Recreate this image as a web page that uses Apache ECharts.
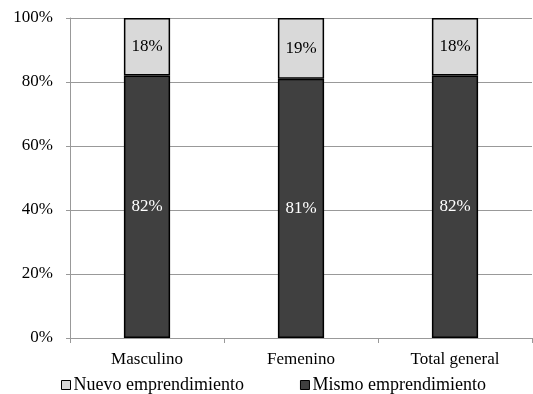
<!DOCTYPE html>
<html>
<head>
<meta charset="utf-8">
<script src="https://cdn.jsdelivr.net/npm/echarts@6/dist/echarts.min.js"></script>
<style>
  html, body { margin: 0; padding: 0; background: #fff; }
  #chart { width: 533px; height: 394px; }
</style>
</head>
<body>
<div id="chart"></div>
<script>
// Share of respondents by gender: same venture vs. new venture
const categories = ['Masculino', 'Femenino', 'Total general'];
const mismo = [82, 81, 82];
const nuevo = [18, 19, 18];
const yTicks = [0, 20, 40, 60, 80, 100];

const font = 'Liberation Serif, Times New Roman, serif';

const chart = echarts.init(document.getElementById('chart'));
chart.setOption({
  animation: false,
  backgroundColor: '#fff',
  grid: { left: 70, right: 1, top: 18, bottom: 56, containLabel: false },
  legend: {
    top: 371,
    left: 56,
    itemGap: 56,
    itemWidth: 9,
    itemHeight: 9,
    icon: 'rect',
    data: ['Nuevo emprendimiento', 'Mismo emprendimiento'],
    textStyle: { fontFamily: font, fontSize: 18, color: '#000', padding: [0, 0, 0, -2] },
    itemStyle: { borderColor: '#000', borderWidth: 1 }
  },
  xAxis: {
    type: 'category',
    data: categories,
    axisLine: { lineStyle: { color: '#999', width: 1 } },
    axisTick: { show: true, length: 5, lineStyle: { color: '#999' } },
    axisLabel: { fontFamily: font, fontSize: 17, color: '#000', margin: 13 }
  },
  yAxis: {
    type: 'value',
    min: 0, max: 100, interval: 20,
    axisLine: { show: true, lineStyle: { color: '#999' } },
    axisTick: { show: true, length: 4, lineStyle: { color: '#999' } },
    splitLine: { lineStyle: { color: '#999', width: 1 } },
    axisLabel: {
      fontFamily: font, fontSize: 17, color: '#000', margin: 17,
      formatter: v => yTicks.includes(v) ? v + '%' : ''
    }
  },
  series: [
    {
      name: 'Mismo emprendimiento',
      type: 'bar',
      stack: 'total',
      barWidth: '30%',
      data: mismo,
      itemStyle: { color: '#404040', borderColor: '#000', borderWidth: 1.5 },
      label: {
        show: true, position: 'inside', formatter: '{c}%',
        fontFamily: font, fontSize: 17, color: '#fff'
      }
    },
    {
      name: 'Nuevo emprendimiento',
      type: 'bar',
      stack: 'total',
      barWidth: '30%',
      data: nuevo,
      itemStyle: { color: '#d9d9d9', borderColor: '#000', borderWidth: 1.5 },
      label: {
        show: true, position: 'inside', formatter: '{c}%',
        fontFamily: font, fontSize: 17, color: '#000'
      }
    }
  ]
});
</script>
</body>
</html>
